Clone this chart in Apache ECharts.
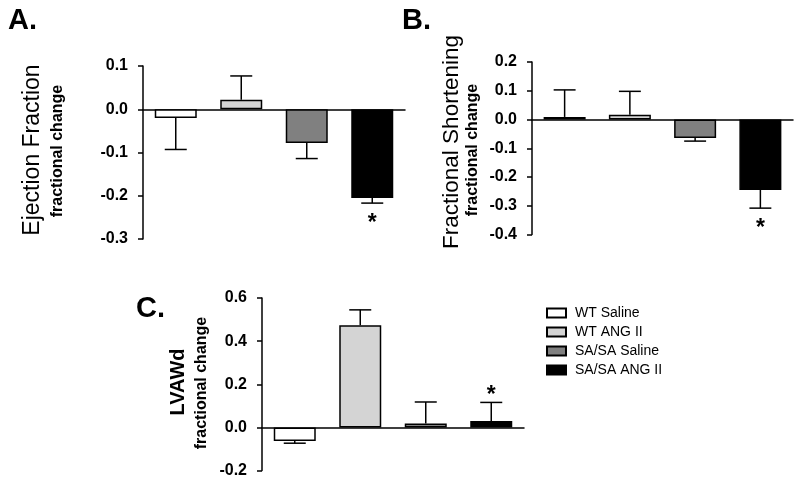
<!DOCTYPE html>
<html>
<head>
<meta charset="utf-8">
<script src="https://cdn.jsdelivr.net/npm/echarts@6/dist/echarts.min.js"></script>
<style>
html,body{margin:0;padding:0;background:#fff;}
#c{width:800px;height:484px;}
</style>
</head>
<body>
<div id="c"></div>
<script>
// ---- data ----
var groups = ['WT Saline', 'WT ANG II', 'SA/SA Saline', 'SA/SA ANG II'];
var groupColors = ['#ffffff', '#d4d4d4', '#808080', '#000000'];

var efMean = [-0.020, 0.022, -0.078, -0.205];
var efErr  = [0.073, 0.055, 0.036, 0.012];
var efSig  = [0, 0, 0, 1];

var fsMean = [0.009, 0.017, -0.064, -0.245];
var fsErr  = [0.094, 0.081, 0.011, 0.063];
var fsSig  = [0, 0, 0, 1];

var lvMean = [-0.063, 0.474, 0.018, 0.030];
var lvErr  = [0.010, 0.071, 0.100, 0.086];
var lvSig  = [0, 0, 0, 1];

var efTicks = {min: -0.3, max: 0.1, interval: 0.1};
var fsTicks = {min: -0.4, max: 0.2, interval: 0.1};
var lvTicks = {min: -0.2, max: 0.6, interval: 0.2};

// ---- chart ----
var FONT = 'Arial, "Liberation Sans", sans-serif';
var chart = echarts.init(document.getElementById('c'), null, {renderer: 'canvas'});

function barData(mean) {
  return mean.map(function (v, i) {
    return {value: v, itemStyle: {color: groupColors[i]}};
  });
}
function errData(mean, err, sig) {
  return mean.map(function (v, i) { return [i, v, err[i], sig[i]]; });
}
function renderErr(params, api) {
  var i = api.value(0), m = api.value(1), e = api.value(2), s = api.value(3);
  var dir = m >= 0 ? 1 : -1;
  var p0 = api.coord([i, m]);
  var p1 = api.coord([i, m + dir * e]);
  var band = api.size([1, 0])[0];
  var hw = band * 0.168;
  var children = [
    {type: 'line', shape: {x1: p0[0], y1: p0[1], x2: p1[0], y2: p1[1]}, style: {stroke: '#000', lineWidth: 1.5}},
    {type: 'line', shape: {x1: p1[0] - hw, y1: p1[1], x2: p1[0] + hw, y2: p1[1]}, style: {stroke: '#000', lineWidth: 1.5}}
  ];
  if (s) {
    var off = dir > 0 ? -7 : 21;
    children.push({type: 'text', x: p1[0], y: p1[1] + off,
      style: {text: '*', fill: '#000', font: 'bold 23px ' + FONT, textAlign: 'center', textVerticalAlign: 'middle'}});
  }
  return {type: 'group', children: children};
}

function yAxis(gi, t) {
  return {
    type: 'value', gridIndex: gi, min: t.min, max: t.max, interval: t.interval,
    splitLine: {show: false},
    axisLine: {show: true, lineStyle: {color: '#000', width: 1.5}},
    axisTick: {show: true, inside: false, length: 5, lineStyle: {color: '#000', width: 1.5}},
    axisLabel: {color: '#000', fontFamily: FONT, fontWeight: 'bold', fontSize: 16, margin: 15,
      formatter: function (v) { return v.toFixed(1); }}
  };
}
function xAxis(gi) {
  return {
    type: 'category', gridIndex: gi, data: groups,
    axisLine: {show: true, onZero: true, lineStyle: {color: '#000', width: 1.5}},
    axisTick: {show: false}, axisLabel: {show: false}, splitLine: {show: false}
  };
}
function bars(gi, mean) {
  return {type: 'bar', xAxisIndex: gi, yAxisIndex: gi, data: barData(mean), barWidth: 42,
    itemStyle: {borderColor: '#000', borderWidth: 1.5}, silent: true, animation: false, z: 2};
}
function errs(gi, mean, err, sig) {
  return {type: 'custom', xAxisIndex: gi, yAxisIndex: gi, data: errData(mean, err, sig),
    renderItem: renderErr, encode: {x: 0, y: 1}, silent: true, animation: false, z: 3};
}
function vtext(x, y, text, font) {
  return {type: 'text', x: x, y: y, rotation: Math.PI / 2,
    style: {text: text, font: font, fill: '#000', textAlign: 'center', textVerticalAlign: 'middle'}};
}

var legendSeries = groups.map(function (g, i) {
  return {type: 'bar', name: g, xAxisIndex: 3, yAxisIndex: 3, data: [],
    itemStyle: {color: groupColors[i], borderColor: '#000', borderWidth: 1.5}};
});

var option = {
  backgroundColor: '#fff',
  animation: false,
  grid: [
    {left: 143, top: 66, width: 262, height: 173},
    {left: 532, top: 62, width: 261, height: 172.6},
    {left: 262, top: 298, width: 262, height: 172.6},
    {left: 0, top: 0, width: 1, height: 1, show: false}
  ],
  xAxis: [xAxis(0), xAxis(1), xAxis(2), {type: 'category', gridIndex: 3, show: false, data: ['x']}],
  yAxis: [yAxis(0, efTicks), yAxis(1, fsTicks), yAxis(2, lvTicks), {type: 'value', gridIndex: 3, show: false}],
  legend: {
    data: groups, orient: 'vertical', left: 541, top: 301,
    itemWidth: 19, itemHeight: 9, itemGap: 5, icon: 'rect',
    textStyle: {color: '#000', fontFamily: FONT, fontSize: 14, padding: [0, 0, 0, 4]},
    selectedMode: false
  },
  series: [
    bars(0, efMean), errs(0, efMean, efErr, efSig),
    bars(1, fsMean), errs(1, fsMean, fsErr, fsSig),
    bars(2, lvMean), errs(2, lvMean, lvErr, lvSig)
  ].concat(legendSeries),
  graphic: [
    {type: 'text', left: 8, top: 6, style: {text: 'A.', font: 'bold 29px ' + FONT, fill: '#000'}},
    {type: 'text', left: 402, top: 6, style: {text: 'B.', font: 'bold 29px ' + FONT, fill: '#000'}},
    {type: 'text', left: 136, top: 294, style: {text: 'C.', font: 'bold 29px ' + FONT, fill: '#000'}},
    vtext(33, 150, 'Ejection Fraction', '23px ' + FONT),
    vtext(58, 151, 'fractional change', 'bold 16px ' + FONT),
    vtext(452, 142, 'Fractional Shortening', '22.5px ' + FONT),
    vtext(473, 150, 'fractional change', 'bold 16px ' + FONT),
    vtext(178, 382, 'LVAWd', 'bold 20px ' + FONT),
    vtext(202, 383, 'fractional change', 'bold 16px ' + FONT)
  ]
};
chart.setOption(option);
</script>
</body>
</html>
